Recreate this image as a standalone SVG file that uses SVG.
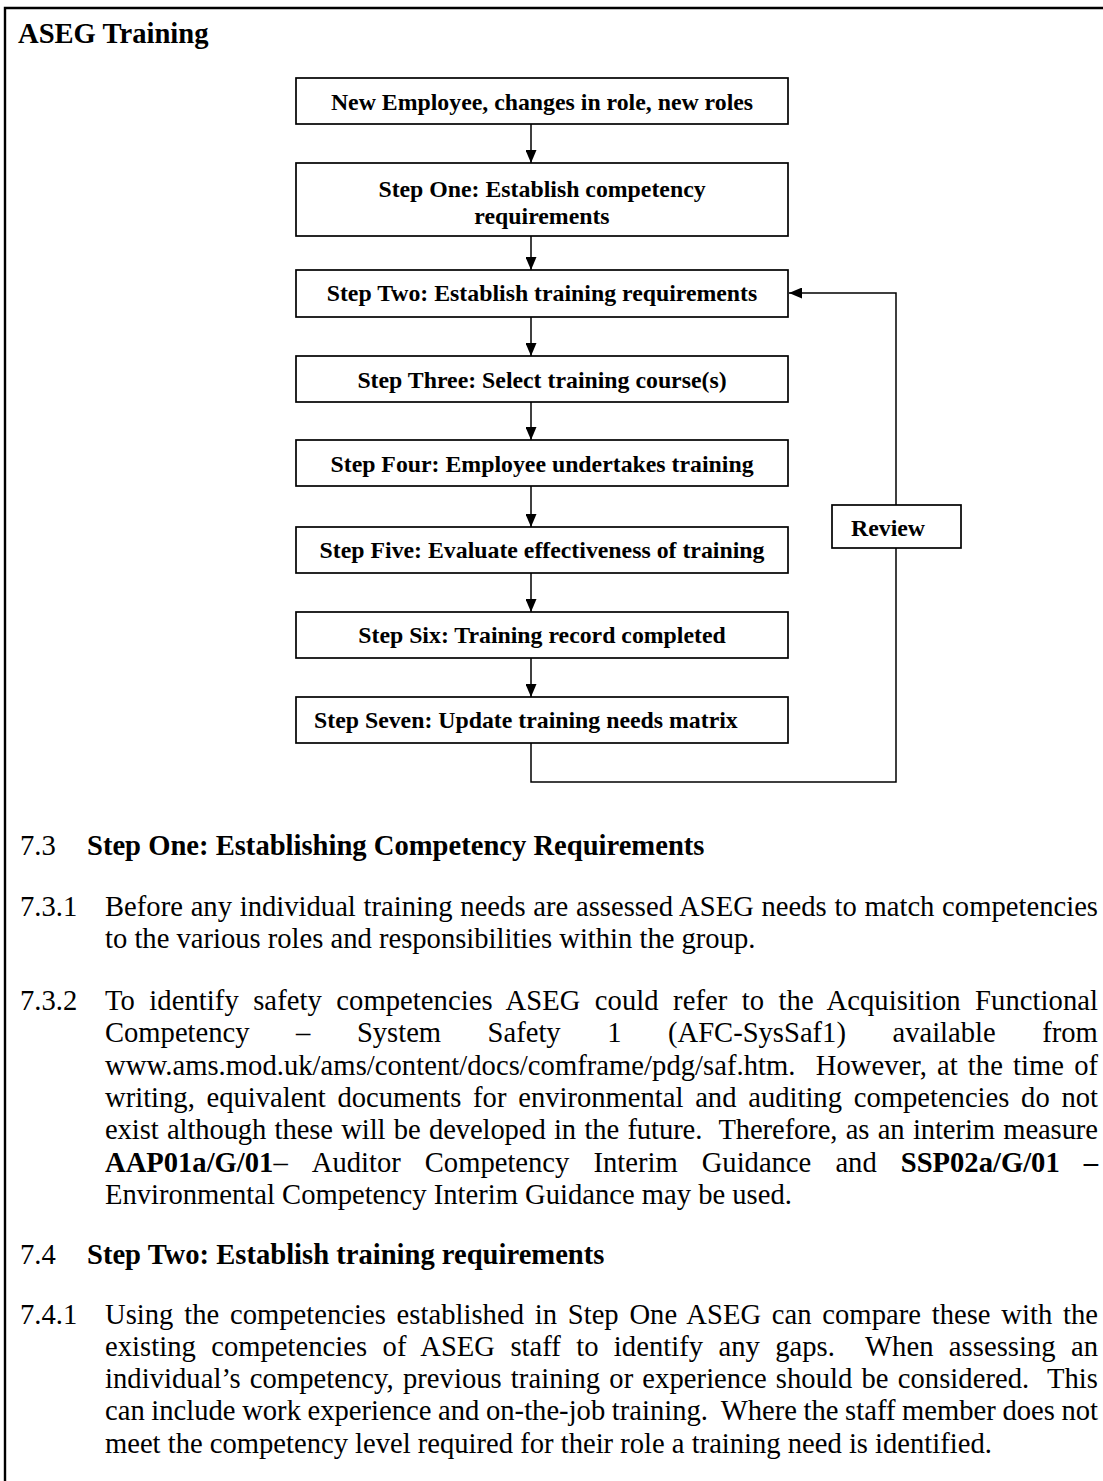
<svg xmlns="http://www.w3.org/2000/svg" width="1103" height="1481" viewBox="0 0 1103 1481">
<style>
.t{font-family:"Liberation Serif","Times New Roman",serif;fill:#000}
.title{font-size:28.6px;font-weight:bold}
.n{font-size:23.8px;font-weight:bold}
.b{font-size:28.6px}
.bold{font-weight:bold}
.box{fill:#fff;stroke:#000;stroke-width:1.7}
.ln{fill:none;stroke:#000;stroke-width:1.5}
</style>
<defs>
<marker id="ah" viewBox="0 0 13 11" refX="13" refY="5.5" markerWidth="13" markerHeight="11" markerUnits="userSpaceOnUse" orient="auto">
<path d="M0,0 L13,5.5 L0,11 Z" fill="#000"/>
</marker>
</defs>
<rect x="0" y="0" width="1103" height="1481" fill="#fff"/>
<path d="M5,1481 V8 H1103" fill="none" stroke="#000" stroke-width="2.4"/>
<text class="t title" x="18" y="43">ASEG Training</text>

<g id="connectors">
<path class="ln" d="M531,124 V163" marker-end="url(#ah)"/>
<path class="ln" d="M531,236 V270" marker-end="url(#ah)"/>
<path class="ln" d="M531,317 V356" marker-end="url(#ah)"/>
<path class="ln" d="M531,402 V440" marker-end="url(#ah)"/>
<path class="ln" d="M531,486 V527" marker-end="url(#ah)"/>
<path class="ln" d="M531,573 V612" marker-end="url(#ah)"/>
<path class="ln" d="M531,658 V697" marker-end="url(#ah)"/>
<path class="ln" d="M531,743 V782 H896 V293 H789" marker-end="url(#ah)"/>
</g>

<g id="new-employee">
<rect class="box" x="296" y="78" width="492" height="46"/>
<text class="t n" x="542" y="110" text-anchor="middle">New Employee, changes in role, new roles</text>
</g>
<g id="step-one">
<rect class="box" x="296" y="163" width="492" height="73"/>
<text class="t n" x="542" y="197" text-anchor="middle">Step One: Establish competency</text>
<text class="t n" x="542" y="224" text-anchor="middle">requirements</text>
</g>
<g id="step-two">
<rect class="box" x="296" y="270" width="492" height="47"/>
<text class="t n" x="542" y="301" text-anchor="middle">Step Two: Establish training requirements</text>
</g>
<g id="step-three">
<rect class="box" x="296" y="356" width="492" height="46"/>
<text class="t n" x="542" y="388" text-anchor="middle">Step Three: Select training course(s)</text>
</g>
<g id="step-four">
<rect class="box" x="296" y="440" width="492" height="46"/>
<text class="t n" x="542" y="472" text-anchor="middle">Step Four: Employee undertakes training</text>
</g>
<g id="step-five">
<rect class="box" x="296" y="527" width="492" height="46"/>
<text class="t n" x="542" y="558" text-anchor="middle">Step Five: Evaluate effectiveness of training</text>
</g>
<g id="step-six">
<rect class="box" x="296" y="612" width="492" height="46"/>
<text class="t n" x="542" y="643" text-anchor="middle">Step Six: Training record completed</text>
</g>
<g id="step-seven">
<rect class="box" x="296" y="697" width="492" height="46"/>
<text class="t n" x="314" y="728">Step Seven: Update training needs matrix</text>
</g>
<g id="review">
<rect class="box" x="832" y="505" width="129" height="43"/>
<text class="t n" x="851" y="536">Review</text>
</g>

<g id="body">
<text class="t b" x="20" y="855">7.3</text>
<text class="t b bold" x="87" y="855">Step One: Establishing Competency Requirements</text>

<text class="t b" x="20" y="915.5">7.3.1</text>
<text class="t b" x="105" y="915.5" word-spacing="0.52" textLength="993" lengthAdjust="spacing">Before any individual training needs are assessed ASEG needs to match competencies</text>
<text class="t b" x="105" y="947.8">to the various roles and responsibilities within the group.</text>

<text class="t b" x="20" y="1010">7.3.2</text>
<text class="t b" x="105" y="1010" word-spacing="7.16" textLength="993" lengthAdjust="spacing">To identify safety competencies ASEG could refer to the Acquisition Functional</text>
<text class="t b" y="1042.3"><tspan x="105">Competency</tspan><tspan x="296.1">–</tspan><tspan x="356.9">System</tspan><tspan x="487.6">Safety</tspan><tspan x="607.2">1</tspan><tspan x="668">(AFC-SysSaf1)</tspan><tspan x="892.5">available</tspan><tspan x="1042.2">from</tspan></text>
<text class="t b" x="105" y="1074.6" xml:space="preserve" word-spacing="2.92" textLength="993" lengthAdjust="spacing">www.ams.mod.uk/ams/content/docs/comframe/pdg/saf.htm.  However, at the time of</text>
<text class="t b" x="105" y="1106.9" word-spacing="4.6" textLength="993" lengthAdjust="spacing">writing, equivalent documents for environmental and auditing competencies do not</text>
<text class="t b" x="105" y="1139.2" xml:space="preserve" word-spacing="1.29" textLength="993" lengthAdjust="spacing">exist although these will be developed in the future.  Therefore, as an interim measure</text>
<text class="t b" y="1171.5"><tspan x="105" class="bold">AAP01a/G/01</tspan><tspan>–</tspan><tspan x="311.8">Auditor</tspan><tspan x="424.8">Competency</tspan><tspan x="593.5">Interim</tspan><tspan x="701.7">Guidance</tspan><tspan x="835.4">and</tspan><tspan x="900.8" class="bold">SSP02a/G/01</tspan><tspan x="1083.7" class="bold">–</tspan></text>
<text class="t b" x="105" y="1203.8">Environmental Competency Interim Guidance may be used.</text>

<text class="t b" x="20" y="1263.5">7.4</text>
<text class="t b bold" x="87" y="1263.5">Step Two: Establish training requirements</text>

<text class="t b" x="20" y="1323.5">7.4.1</text>
<text class="t b" x="105" y="1323.5" word-spacing="3.58" textLength="993" lengthAdjust="spacing">Using the competencies established in Step One ASEG can compare these with the</text>
<text class="t b" x="105" y="1355.8" xml:space="preserve" word-spacing="8.15" textLength="993" lengthAdjust="spacing">existing competencies of ASEG staff to identify any gaps.  When assessing an</text>
<text class="t b" x="105" y="1388.1" xml:space="preserve" word-spacing="1.92" textLength="993" lengthAdjust="spacing">individual’s competency, previous training or experience should be considered.  This</text>
<text class="t b" x="105" y="1420.4" xml:space="preserve" word-spacing="-0.6" textLength="993" lengthAdjust="spacing">can include work experience and on-the-job training.  Where the staff member does not</text>
<text class="t b" x="105" y="1452.7">meet the competency level required for their role a training need is identified.</text>
</g>
</svg>
